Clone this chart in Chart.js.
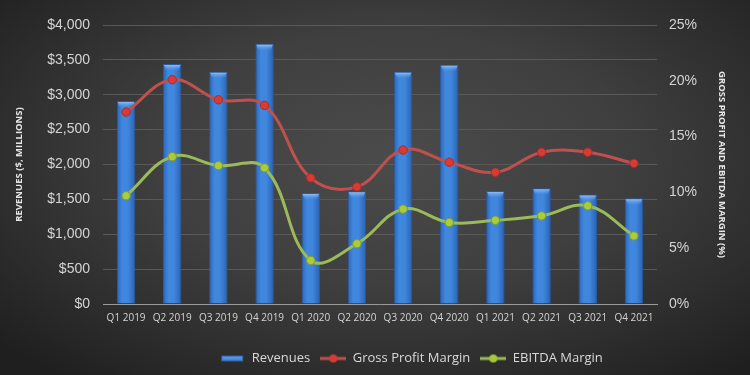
<!DOCTYPE html>
<html><head><meta charset="utf-8">
<script src="https://cdn.jsdelivr.net/npm/chart.js@4.4.1/dist/chart.umd.min.js"></script>
<style>
html,body{margin:0;padding:0;width:750px;height:375px;overflow:hidden;}
body{background:radial-gradient(ellipse 70% 75% at 52% 42%, #4b4b4b 0%, #3f3f3f 45%, #2b2b2b 80%, #1f1f1f 100%);}
#wrap{position:absolute;left:0;top:0;width:750px;height:375px;}
</style></head>
<body><div id="wrap"><canvas id="c" width="750" height="375"></canvas></div>
<script>
const categories = ['Q1 2019','Q2 2019','Q3 2019','Q4 2019','Q1 2020','Q2 2020','Q3 2020','Q4 2020','Q1 2021','Q2 2021','Q3 2021','Q4 2021'];
const revenues = [2910, 3440, 3330, 3730, 1590, 1615, 3330, 3430, 1620, 1660, 1570, 1515];
const grossMargin = [17.2, 20.1, 18.3, 17.8, 11.3, 10.5, 13.8, 12.7, 11.8, 13.6, 13.6, 12.6];
const ebitdaMargin = [9.7, 13.2, 12.4, 12.2, 3.9, 5.4, 8.5, 7.3, 7.5, 7.9, 8.8, 6.1];
const revTicks = [0, 500, 1000, 1500, 2000, 2500, 3000, 3500, 4000];
const pctTicks = [0, 5, 10, 15, 20, 25];

function legendIcon(kind){
  const cv = document.createElement('canvas');
  cv.width = 26; cv.height = 12;
  const g = cv.getContext('2d');
  if (kind === 'bar'){
    const gr = g.createLinearGradient(0,2,0,10);
    gr.addColorStop(0,'#6fb0f5'); gr.addColorStop(1,'#2f6fc4');
    g.fillStyle = gr; g.fillRect(2,3,22,6);
    g.strokeStyle='#2a5ea8'; g.lineWidth=1; g.strokeRect(2.5,3.5,21,5);
  } else {
    const col = kind === 'red' ? '#c0504d' : '#9bbb59';
    const pt = kind === 'red' ? '#d83a34' : '#a6c83a';
    g.strokeStyle = col; g.lineWidth = 3;
    g.beginPath(); g.moveTo(0,6); g.lineTo(26,6); g.stroke();
    g.fillStyle = pt; g.beginPath(); g.arc(13,6,4,0,Math.PI*2); g.fill();
  }
  return cv;
}
const icons = [legendIcon('bar'), legendIcon('red'), legendIcon('green')];

function barGradient(context){
  const chart = context.chart;
  const xs = chart.scales.x;
  if (!xs || context.dataIndex === undefined) return '#3d80d8';
  const cx = xs.getPixelForValue(context.dataIndex);
  const w = 9.5;
  const gr = chart.ctx.createLinearGradient(cx - w, 0, cx + w, 0);
  gr.addColorStop(0, '#2a63b8');
  gr.addColorStop(0.3, '#4088de');
  gr.addColorStop(0.6, '#3f86dc');
  gr.addColorStop(1, '#2a5fb0');
  return gr;
}

const capPlugin = {
  id: 'caps',
  afterDatasetDraw(chart, args){
    if (args.index !== 0) return;
    const ctx = chart.ctx;
    const meta = chart.getDatasetMeta(0);
    meta.data.forEach(el => {
      const x = el.x, y = el.y, w = el.width;
      const gr = ctx.createLinearGradient(0, y, 0, y + 7);
      gr.addColorStop(0, 'rgba(170,210,255,0.95)');
      gr.addColorStop(1, 'rgba(90,150,230,0)');
      ctx.save();
      ctx.fillStyle = gr;
      ctx.beginPath();
      ctx.moveTo(x - w/2 + 1, y + 1);
      ctx.lineTo(x + w/2 - 1, y + 1);
      ctx.lineTo(x + w/2 - 3, y + 7);
      ctx.lineTo(x - w/2 + 3, y + 7);
      ctx.closePath();
      ctx.fill();
      ctx.restore();
    });
  }
};

const legendShift = {
  id: 'legendShift',
  afterLayout(chart){
    const lg = chart.legend;
    if (lg){ lg.left += 36; lg.right += 36; }
  }
};

const tickColor = '#d4d4d4';
new Chart(document.getElementById('c'), {
  data: {
    labels: categories,
    datasets: [
      { type: 'bar', label: 'Revenues', data: revenues, yAxisID: 'y', order: 2,
        backgroundColor: barGradient, borderColor: '#2a5aa0', borderWidth: 1,
        categoryPercentage: 1, barPercentage: 0.4 },
      { type: 'line', label: 'Gross Profit Margin', data: grossMargin, yAxisID: 'y1', order: 0,
        borderColor: '#c0504d', borderWidth: 3, tension: 0.4,
        pointRadius: 4.2, pointBackgroundColor: '#d83a34', pointBorderColor: '#a82e2a', pointBorderWidth: 1 },
      { type: 'line', label: 'EBITDA Margin', data: ebitdaMargin, yAxisID: 'y1', order: 1,
        borderColor: '#9bbb59', borderWidth: 3, tension: 0.4,
        pointRadius: 4.2, pointBackgroundColor: '#a9cb3c', pointBorderColor: '#7f9a2c', pointBorderWidth: 1 }
    ]
  },
  options: {
    responsive: false,
    animation: false,
    layout: { padding: { top: 25, left: 0, right: 0, bottom: 0 } },
    plugins: {
      tooltip: { enabled: false },
      legend: {
        position: 'bottom',
        labels: {
          color: '#d9d9d9',
          font: { family: 'Open Sans', size: 13 },
          usePointStyle: true,
          pointStyleWidth: 26,
          padding: 10,
          generateLabels(chart){
            return chart.data.datasets.map((ds, i) => ({
              text: ds.label, pointStyle: icons[i], datasetIndex: i,
              fontColor: '#d9d9d9', hidden: false, lineWidth: 0, strokeStyle: 'transparent', fillStyle: 'transparent'
            }));
          }
        }
      }
    },
    scales: {
      x: {
        grid: { display: false, drawTicks: false },
        border: { color: '#9a9a9a', width: 1 },
        ticks: { color: tickColor, font: { family: 'Open Sans', size: 10 }, padding: 8, maxRotation: 0 },
        afterFit(s){ s.height = 38; }
      },
      y: {
        position: 'left', min: 0, max: 4000,
        afterBuildTicks(s){ s.ticks = revTicks.map(v => ({ value: v })); },
        grid: { color: '#595959', drawTicks: false },
        border: { display: false },
        ticks: { color: tickColor, font: { family: 'Liberation Sans', size: 14 }, padding: 13,
          callback: v => '$' + v.toLocaleString('en-US') },
        title: { display: true, text: 'REVENUES ($, MILLIONS)', color: '#e6e6e6',
          font: { family: 'Open Sans', size: 9.5, weight: 'bold' }, padding: { top: 14, bottom: 0 } },
        afterFit(s){ s.width = 103; }
      },
      y1: {
        position: 'right', min: 0, max: 25,
        afterBuildTicks(s){ s.ticks = pctTicks.map(v => ({ value: v })); },
        grid: { display: false, drawTicks: false },
        border: { display: false },
        ticks: { color: tickColor, font: { family: 'Liberation Sans', size: 14 }, padding: 12,
          callback: v => v + '%' },
        title: { display: true, text: 'GROSS PROFIT AND EBITDA MARGIN (%)', color: '#e6e6e6',
          font: { family: 'Open Sans', size: 9.5, weight: 'bold' }, padding: { top: 23, bottom: 0 } },
        afterFit(s){ s.width = 93; }
      }
    }
  },
  plugins: [capPlugin, legendShift]
});
</script>
</body></html>
